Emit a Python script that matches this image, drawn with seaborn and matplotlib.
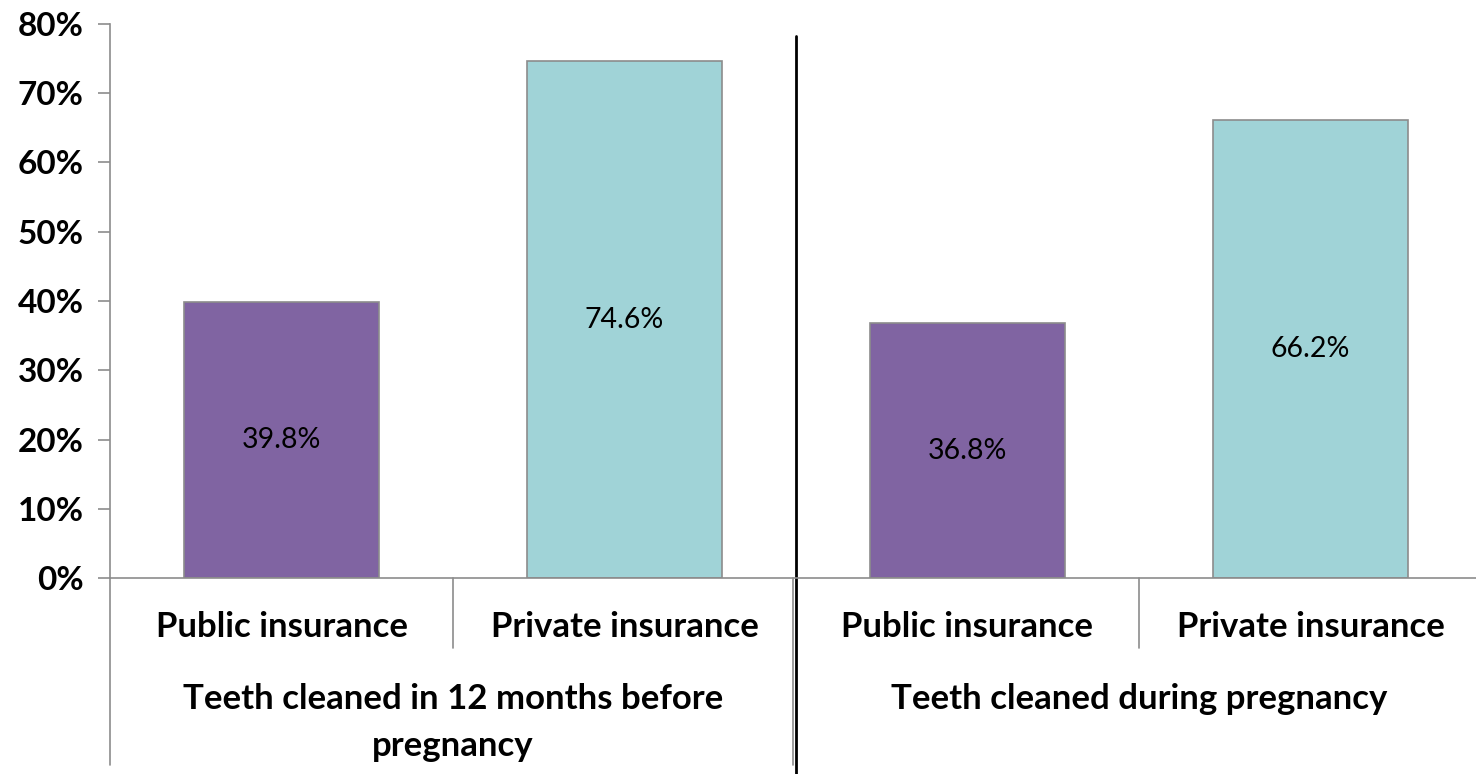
import numpy as np
import pandas as pd
import matplotlib
matplotlib.use('Agg')
import matplotlib.pyplot as plt
import seaborn as sns

# Data
groups = ['Teeth cleaned in 12 months before\npregnancy', 'Teeth cleaned during pregnancy']
insurance = ['Public insurance', 'Private insurance']
values = [39.8, 74.6, 36.8, 66.2]
bar_colors = {'Public insurance': '#8064A2', 'Private insurance': '#A0D3D7'}
y_ticks = [0, 10, 20, 30, 40, 50, 60, 70, 80]

df = pd.DataFrame({
    'slot': ['g0_pub', 'g0_priv', 'g1_pub', 'g1_priv'],
    'insurance': insurance * 2,
    'value': values,
})

sns.set_theme(style='white', rc={'text.color': 'black', 'ytick.color': 'black'})
plt.rcParams['font.family'] = ['Lato', 'DejaVu Sans']

fig = plt.figure(figsize=(14.76, 7.74), dpi=100)
ax = fig.add_axes([110 / 1476, 196 / 774, 1372 / 1476, 554 / 774])

sns.barplot(data=df, x='slot', y='value', hue='insurance', palette=bar_colors,
            dodge=False, width=0.57, saturation=1, edgecolor='#8c8c8c', linewidth=1.2,
            legend=False, ax=ax)

# value labels centred inside the bars
for i, v in enumerate(values):
    ax.text(i, v / 2, f'{v:.1f}%', ha='center', va='center', fontsize=20.5, color='black')

ax.set_xlim(-0.5, 3.5)
ax.set_ylim(0, 80)
ax.set_yticks(y_ticks)
ax.set_yticklabels([f'{t}%' for t in y_ticks], fontsize=24, fontweight='bold', color='black')
ax.set_xticks([])
ax.set_xlabel('')
ax.set_ylabel('')
ax.tick_params(axis='y', length=9, width=1.2, color='#8c8c8c', left=True, pad=10)

for side in ['top', 'right']:
    ax.spines[side].set_visible(False)
for side in ['left', 'bottom']:
    ax.spines[side].set_color('#8c8c8c')
    ax.spines[side].set_linewidth(1.2)

trans = ax.get_xaxis_transform()
# category labels below the axis
for i, lab in enumerate(insurance * 2):
    ax.text(i, -0.088, lab, transform=trans, ha='center', va='center', color='black',
            fontsize=25, fontweight='bold', clip_on=False)
# group labels
for g, lab in enumerate(groups):
    ax.text(g * 2 + 0.5, -0.19, lab, transform=trans, ha='center', va='top', color='black',
            fontsize=25, fontweight='bold', linespacing=1.55, clip_on=False)

# separator lines in the label area
for x in [0.5, 2.5]:
    ax.plot([x, x], [0, -0.126], transform=trans, color='#8c8c8c', lw=1.2, clip_on=False)
for x in [-0.5, 1.49]:
    ax.plot([x, x], [0, -0.338], transform=trans, color='#8c8c8c', lw=1.2, clip_on=False)

# black divider between the two groups
ax.plot([1.5, 1.5], [0.978, -0.355], transform=trans, color='black', lw=2, clip_on=False)

fig.savefig('out.png', dpi=100)
